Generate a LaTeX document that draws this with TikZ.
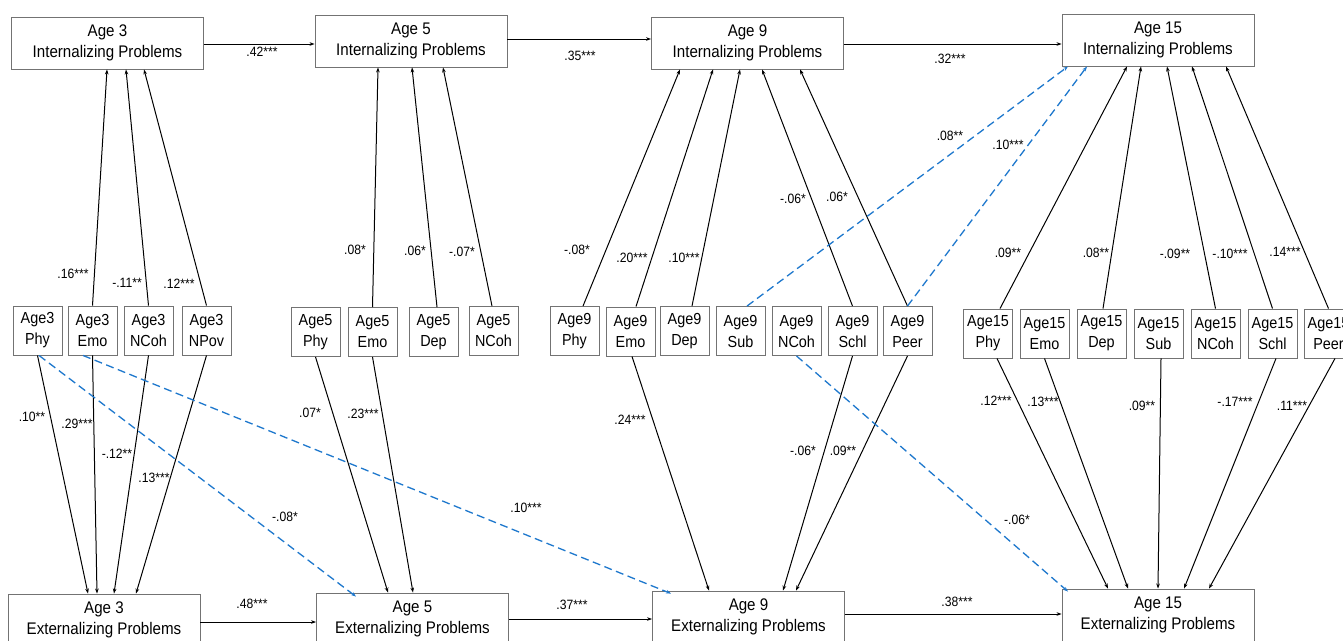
\documentclass[tikz,border=0pt]{standalone}
\usepackage{fontspec}
\setmainfont{Liberation Sans}
\newfontfamily\narrowfont[FakeStretch=0.9]{Liberation Sans}
\usetikzlibrary{arrows.meta}
\definecolor{myblue}{RGB}{30,120,205}
\tikzset{
  bigbox/.style={draw=black!55, line width=0.9pt, minimum width=192pt, minimum height=52pt, inner sep=0pt, align=center, font=\narrowfont\fontsize{16.8}{21}\selectfont},
  smallbox/.style={draw=black!55, line width=0.9pt, minimum width=49pt, minimum height=49pt, inner sep=0pt, align=center, font=\narrowfont\fontsize{16}{21}\selectfont},
  coef/.style={inner sep=0pt, font=\narrowfont\fontsize{13.5}{15}\selectfont},
  conn/.style={draw=black, line width=1pt, -{Stealth[length=5pt,width=3.6pt]}},
  dconn/.style={draw=myblue, line width=1.3pt, dash pattern=on 8pt off 4.5pt, -{Stealth[length=5pt,width=3.6pt]}}
}
\begin{document}
\begin{tikzpicture}[x=1pt,y=-1pt]
\useasboundingbox (0,0) rectangle (1343,640);
\fill[white] (0,0) rectangle (1343,640);
% big boxes
\node[bigbox] (i3) at (107.5,43) {Age 3\\Internalizing Problems};
\node[bigbox] (i5) at (411,41) {Age 5\\Internalizing Problems};
\node[bigbox] (i9) at (747.5,43) {Age 9\\Internalizing Problems};
\node[bigbox] (i15) at (1158,40) {Age 15\\Internalizing Problems};
\node[bigbox] (e3) at (104,620) {Age 3\\Externalizing Problems};
\node[bigbox] (e5) at (412.5,619) {Age 5\\Externalizing Problems};
\node[bigbox] (e9) at (748.5,617) {Age 9\\Externalizing Problems};
\node[bigbox] (e15) at (1158,615) {Age 15\\Externalizing Problems};
% small boxes
\node[smallbox] (a3phy) at (37.5,330.5) {Age3\\Phy};
\node[smallbox] (a3emo) at (92.5,330.5) {Age3\\Emo};
\node[smallbox] (a3ncoh) at (148.5,330.5) {Age3\\NCoh};
\node[smallbox] (a3npov) at (206.5,330.5) {Age3\\NPov};
\node[smallbox] (a5phy) at (315.5,332) {Age5\\Phy};
\node[smallbox] (a5emo) at (372.5,332) {Age5\\Emo};
\node[smallbox] (a5dep) at (433.5,332) {Age5\\Dep};
\node[smallbox] (a5ncoh) at (493.5,331) {Age5\\NCoh};
\node[smallbox] (a9phy) at (574.5,331) {Age9\\Phy};
\node[smallbox] (a9emo) at (630.5,331.5) {Age9\\Emo};
\node[smallbox] (a9dep) at (684.5,331) {Age9\\Dep};
\node[smallbox] (a9sub) at (740.5,331) {Age9\\Sub};
\node[smallbox] (a9ncoh) at (796.5,331) {Age9\\NCoh};
\node[smallbox] (a9schl) at (852.5,331) {Age9\\Schl};
\node[smallbox] (a9peer) at (907.5,331) {Age9\\Peer};
\node[smallbox] (a15phy) at (988,333.5) {Age15\\Phy};
\node[smallbox] (a15emo) at (1044.5,333.5) {Age15\\Emo};
\node[smallbox] (a15dep) at (1101.5,333.5) {Age15\\Dep};
\node[smallbox] (a15sub) at (1158.5,333.5) {Age15\\Sub};
\node[smallbox] (a15ncoh) at (1215.5,333.5) {Age15\\NCoh};
\node[smallbox] (a15schl) at (1272.5,333.5) {Age15\\Schl};
\node[smallbox] (a15peer) at (1328.5,333.5) {Age15\\Peer};
% horizontal paths
\draw[conn] ([yshift=-1pt]i3.east) -- ([yshift=-1pt]i3.east -| i5.west);
\draw[conn] ([yshift=2pt]i5.east) -- ([yshift=2pt]i5.east -| i9.west);
\draw[conn] ([yshift=-1pt]i9.east) -- ([yshift=-1pt]i9.east -| i15.west);
\draw[conn] ([yshift=-2pt]e3.east) -- ([yshift=-2pt]e3.east -| e5.west);
\draw[conn] ([yshift=0pt]e5.east) -- ([yshift=0pt]e5.east -| e9.west);
\draw[conn] ([yshift=3pt]e9.east) -- ([yshift=3pt]e9.east -| e15.west);
% to internalizing
\draw[conn] (a3emo.north) -- ([xshift=-0.5pt]i3.south);
\draw[conn] (a3ncoh.north) -- ([xshift=18.5pt]i3.south);
\draw[conn] (a3npov.north) -- ([xshift=36.5pt]i3.south);
\draw[conn] (a5emo.north) -- ([xshift=-33pt]i5.south);
\draw[conn] ([xshift=3.5pt]a5dep.north) -- ([xshift=1pt]i5.south);
\draw[conn] ([xshift=-1.5pt]a5ncoh.north) -- ([xshift=32pt]i5.south);
\draw[conn] ([xshift=8.5pt]a9phy.north) -- ([xshift=-67.5pt]i9.south);
\draw[conn] ([xshift=5.5pt]a9emo.north) -- ([xshift=-34.5pt]i9.south);
\draw[conn] ([xshift=7.5pt]a9dep.north) -- ([xshift=-7.5pt]i9.south);
\draw[conn] (a9schl.north) -- ([xshift=14.5pt]i9.south);
\draw[conn] (a9peer.north) -- ([xshift=52.5pt]i9.south);
\draw[conn] ([xshift=12pt]a15phy.north) -- ([xshift=-31pt]i15.south);
\draw[conn] ([xshift=1.5pt]a15dep.north) -- ([xshift=-17pt]i15.south);
\draw[conn] (a15ncoh.north) -- ([xshift=9pt]i15.south);
\draw[conn] (a15schl.north) -- ([xshift=34pt]i15.south);
\draw[conn] (a15peer.north) -- ([xshift=68pt]i15.south);
\draw[dconn] ([xshift=6.5pt]a9sub.north) -- ([xshift=-90pt]i15.south);
\draw[dconn] (a9peer.north) -- ([xshift=-71pt]i15.south);
% to externalizing
\draw[conn] (a3phy.south) -- ([xshift=-16pt]e3.north);
\draw[conn] (a3emo.south) -- ([xshift=-7pt]e3.north);
\draw[conn] (a3ncoh.south) -- ([xshift=10pt]e3.north);
\draw[conn] (a3npov.south) -- ([xshift=32pt]e3.north);
\draw[dconn] ([xshift=1.5pt]a3phy.south) -- ([xshift=-56.5pt,yshift=-4pt]e5.north);
\draw[dconn] ([xshift=-9.5pt]a3emo.south) -- ([xshift=-77.5pt,yshift=-3pt]e9.north);
\draw[conn] (a5phy.south) -- ([xshift=-24.5pt]e5.north);
\draw[conn] (a5emo.south) -- ([xshift=0.5pt]e5.north);
\draw[conn] ([xshift=1.5pt]a9emo.south) -- ([xshift=-39.5pt]e9.north);
\draw[conn] (a9schl.south) -- ([xshift=34.5pt]e9.north);
\draw[conn] (a9peer.south) -- ([xshift=47.5pt]e9.north);
\draw[dconn] (a9ncoh.south) -- ([xshift=-90pt,yshift=-3pt]e15.north);
\draw[conn] ([xshift=9pt]a15phy.south) -- ([xshift=-50pt]e15.north);
\draw[conn] (a15emo.south) -- ([xshift=-30pt]e15.north);
\draw[conn] ([xshift=2.5pt]a15sub.south) -- (e15.north);
\draw[conn] ([xshift=3.5pt]a15schl.south) -- ([xshift=26pt]e15.north);
\draw[conn] ([xshift=6.5pt]a15peer.south) -- ([xshift=51pt]e15.north);
% coefficients
\node[coef] (c1) at (262,52) {.42***};
\node[coef] (c2) at (580,56) {.35***};
\node[coef] (c3) at (950,59) {.32***};
\node[coef] (c4) at (252,604) {.48***};
\node[coef] (c5) at (572,605) {.37***};
\node[coef] (c6) at (957,602) {.38***};
\node[coef] (c7) at (73,274) {.16***};
\node[coef] (c8) at (127,283) {-.11**};
\node[coef] (c9) at (179,284) {.12***};
\node[coef] (c10) at (355,250) {.08*};
\node[coef] (c11) at (415,251) {.06*};
\node[coef] (c12) at (462,252) {-.07*};
\node[coef] (c13) at (577,250) {-.08*};
\node[coef] (c14) at (632,258) {.20***};
\node[coef] (c15) at (684,258) {.10***};
\node[coef] (c16) at (793,199) {-.06*};
\node[coef] (c17) at (837,197) {.06*};
\node[coef] (c18) at (950,136) {.08**};
\node[coef] (c19) at (1008,145) {.10***};
\node[coef] (c20) at (1008,253) {.09**};
\node[coef] (c21) at (1096,253) {.08**};
\node[coef] (c22) at (1175,254) {-.09**};
\node[coef] (c23) at (1230,254) {-.10***};
\node[coef] (c24) at (1285,252) {.14***};
\node[coef] (c25) at (32,417) {.10**};
\node[coef] (c26) at (77,424) {.29***};
\node[coef] (c27) at (117,454) {-.12**};
\node[coef] (c28) at (154,478) {.13***};
\node[coef] (c29) at (285,517) {-.08*};
\node[coef] (c30) at (526,508) {.10***};
\node[coef] (c31) at (310,413) {.07*};
\node[coef] (c32) at (363,414) {.23***};
\node[coef] (c33) at (630,420) {.24***};
\node[coef] (c34) at (803,451) {-.06*};
\node[coef] (c35) at (843,451) {.09**};
\node[coef] (c36) at (1017,520) {-.06*};
\node[coef] (c37) at (996,401) {.12***};
\node[coef] (c38) at (1043,402) {.13***};
\node[coef] (c39) at (1142,406) {.09**};
\node[coef] (c40) at (1235,402) {-.17***};
\node[coef] (c41) at (1292,406) {.11***};
\end{tikzpicture}
\end{document}
